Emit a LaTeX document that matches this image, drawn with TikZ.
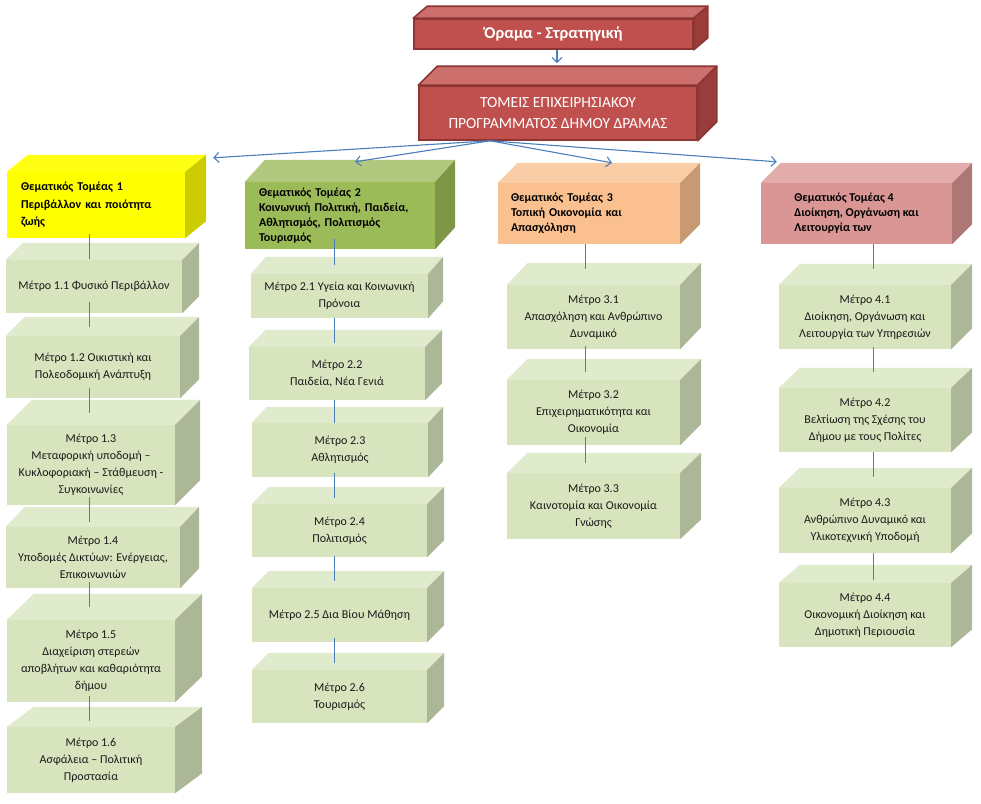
\documentclass[tikz,border=0pt]{standalone}
\usepackage{fontspec}
\setmainfont{Carlito}
\usetikzlibrary{calc,arrows.meta}
\definecolor{redF}{HTML}{C0504D}
\definecolor{redT}{HTML}{CD6F6C}
\definecolor{redS}{HTML}{9A3D3A}
\definecolor{redD}{HTML}{8C3533}
\definecolor{yelF}{HTML}{FFFF00}
\definecolor{yelT}{HTML}{FFFF14}
\definecolor{yelS}{HTML}{CCCC00}
\definecolor{grnF}{HTML}{9BBB59}
\definecolor{grnT}{HTML}{B0C97E}
\definecolor{grnS}{HTML}{7D9747}
\definecolor{orgF}{HTML}{FAC090}
\definecolor{orgT}{HTML}{FBCDA7}
\definecolor{orgS}{HTML}{C89A73}
\definecolor{pnkF}{HTML}{D99694}
\definecolor{pnkT}{HTML}{E2ACAA}
\definecolor{pnkS}{HTML}{AE7877}
\definecolor{meaF}{HTML}{D7E4BD}
\definecolor{meaT}{HTML}{E0EACC}
\definecolor{meaS}{HTML}{ACB797}
\definecolor{lineC}{HTML}{4A7EBB}
\definecolor{txt}{HTML}{1A1A1A}
\tikzset{
  base/.style={rectangle, inner sep=0pt, text=txt, font=\fontsize{12}{17}\selectfont},
  mea/.style={base, fill=meaF, align=center},
  mea top/.style={fill=meaT},
  mea side/.style={fill=meaS},
  red/.style={base, fill=redF, draw=redD, line width=1.6pt, text=white, align=center},
  red top/.style={fill=redT, draw=redD, line width=1.6pt, line join=round},
  red side/.style={fill=redS, draw=redD, line width=1.6pt, line join=round},
  thm/.style={base, align=left, text=black, font=\fontsize{12}{17.5}\selectfont\bfseries},
  th1/.style={thm, fill=yelF},
  th1 top/.style={fill=yelT},
  th1 side/.style={fill=yelS},
  th2/.style={thm, fill=grnF, font=\fontsize{12}{15}\selectfont\bfseries},
  th2 top/.style={fill=grnT},
  th2 side/.style={fill=grnS},
  th3/.style={thm, fill=orgF, font=\fontsize{12}{15}\selectfont\bfseries},
  th3 top/.style={fill=orgT},
  th3 side/.style={fill=orgS},
  th4/.style={thm, fill=pnkF, font=\fontsize{12}{15}\selectfont\bfseries},
  th4 top/.style={fill=pnkT},
  th4 side/.style={fill=pnkS},
  conn/.style={draw=lineC, line width=1pt},
  arr/.style={draw=lineC, line width=1.1pt, -{Straight Barb[length=5pt,width=10pt]}},
}
% #1 name, #2 kind, #3 x1, #4 y1, #5 x2, #6 y2, #7 depth shift, #8 options, #9 text
\newcommand\cubox[9]{%
  \node[#2, minimum width={#5-#3}, minimum height={#6-#4}, #8] (#1) at ({(#3+#5)/2},{(#4+#6)/2}) {#9};
  \path[#2 top] (#1.north west) -- ++#7 -- ([shift={#7}]#1.north east) -- (#1.north east) -- cycle;
  \path[#2 side] (#1.north east) -- ++#7 -- ([shift={#7}]#1.south east) -- (#1.south east) -- cycle;
}
% #1 parent, #2 child, #3 column coordinate, #4 start above parent bottom, #5 end above child top
\newcommand\conn[5]{%
  \draw[conn] ($(#1.south -| #3)+(0,-#4)$) -- ($(#2.north -| #3)+(0,-#5)$);
}
\begin{document}
\begin{tikzpicture}[x=1pt,y=-1pt]
\useasboundingbox (0,0) rectangle (981,803);
\coordinate (c1) at (89,0);
\coordinate (c2) at (334,0);
\coordinate (c3) at (585,0);
\coordinate (c4) at (873,0);

% top boxes
\cubox{r1}{red}{414}{19}{693}{49}{(14,-12)}{font=\fontsize{16.5}{18}\selectfont\bfseries}{Όραμα - Στρατηγική}
\cubox{r2}{red}{419}{86}{697}{140}{(19,-19)}{font=\fontsize{15.5}{21}\selectfont}{ΤΟΜΕΙΣ ΕΠΙΧΕΙΡΗΣΙΑΚΟΥ\\ΠΡΟΓΡΑΜΜΑΤΟΣ ΔΗΜΟΥ ΔΡΑΜΑΣ}

% themes
\cubox{t1}{th1}{7}{172}{185}{238}{(21,-17)}{text width=150pt}{Θεματικός Τομέας 1\\Περιβάλλον και ποιότητα\\ζωής}
\cubox{t2}{th2}{245}{182}{435}{249}{(20,-22)}{text width=162pt}{Θεματικός Τομέας  2\\Κοινωνική Πολιτική, Παιδεία,\\Αθλητισμός, Πολιτισμός\\Τουρισμός}
\cubox{t3}{th3}{498}{183}{680}{244}{(20,-20)}{text width=156pt}{Θεματικός Τομέας 3\\Τοπική Οικονομία και\\Απασχόληση}
\cubox{t4}{th4}{761}{183}{952}{244}{(20,-20)}{}{Θεματικός Τομέας 4\\Διοίκηση, Οργάνωση και\\Λειτουργία των}

% column 1
\cubox{m11}{mea}{6}{260}{182}{313}{(17,-17)}{}{Μέτρο 1.1 Φυσικό Περιβάλλον}
\cubox{m12}{mea}{6}{336}{180}{398}{(19,-19)}{}{Μέτρο 1.2 Οικιστική  και\\Πολεοδομική Ανάπτυξη}
\cubox{m13}{mea}{7}{425}{175}{505}{(25,-25)}{}{Μέτρο 1.3\\Μεταφορική υποδομή –\\Κυκλοφοριακή  – Στάθμευση -\\Συγκοινωνίες}
\cubox{m14}{mea}{6}{527}{180}{588}{(19,-20)}{}{Μέτρο 1.4\\Υποδομές Δικτύων: Ενέργειας,\\Επικοινωνιών}
\cubox{m15}{mea}{7}{620}{175}{702}{(27,-26)}{}{Μέτρο 1.5\\Διαχείριση στερεών\\αποβλήτων και  καθαριότητα\\δήμου}
\cubox{m16}{mea}{7}{727}{175}{793}{(27,-20)}{}{Μέτρο 1.6\\Ασφάλεια – Πολιτική\\Προστασία}

% column 2
\cubox{m21}{mea}{251}{274}{428}{318}{(15,-17)}{}{Μέτρο 2.1  Υγεία και Κοινωνική\\Πρόνοια}
\cubox{m22}{mea}{249}{347}{425}{400}{(17,-17)}{}{Μέτρο 2.2\\Παιδεία, Νέα Γενιά}
\cubox{m23}{mea}{252}{423}{428}{477}{(15,-16)}{}{Μέτρο 2.3\\Αθλητισμός}
\cubox{m24}{mea}{252}{504}{427}{557}{(17,-17)}{}{Μέτρο 2.4\\Πολιτισμός}
\cubox{m25}{mea}{252}{588}{427}{642}{(17,-17)}{}{Μέτρο 2.5  Δια Βίου Μάθηση}
\cubox{m26}{mea}{252}{670}{427}{723}{(17,-17)}{}{Μέτρο 2.6\\Τουρισμός}

% column 3
\cubox{m31}{mea}{507}{285}{680}{349}{(21,-22)}{}{Μέτρο 3.1\\Απασχόληση και Ανθρώπινο\\Δυναμικό}
\cubox{m32}{mea}{507}{380}{680}{445}{(21,-21)}{}{Μέτρο 3.2\\Επιχειρηματικότητα και\\Οικονομία}
\cubox{m33}{mea}{507}{473}{680}{539}{(21,-20)}{}{Μέτρο 3.3\\Καινοτομία και Οικονομία\\Γνώσης}

% column 4
\cubox{m41}{mea}{779}{285}{951}{349}{(21,-21)}{}{Μέτρο 4.1\\Διοίκηση,  Οργάνωση  και\\Λειτουργία των Υπηρεσιών}
\cubox{m42}{mea}{779}{388}{951}{452}{(21,-20)}{}{Μέτρο 4.2\\Βελτίωση της Σχέσης του\\Δήμου με τους Πολίτες}
\cubox{m43}{mea}{779}{488}{951}{553}{(21,-20)}{}{Μέτρο 4.3\\Ανθρώπινο Δυναμικό και\\Υλικοτεχνική Υποδομή}
\cubox{m44}{mea}{779}{583}{951}{647}{(21,-18)}{}{Μέτρο 4.4\\Οικονομική Διοίκηση  και\\Δημοτική Περιουσία}

% connectors
\conn{t1}{m11}{c1}{4}{1}
\conn{m11}{m12}{c1}{11}{9}
\conn{m12}{m13}{c1}{10}{12}
\conn{m13}{m14}{c1}{8}{5}
\conn{m14}{m15}{c1}{6}{13}
\conn{m15}{m16}{c1}{6}{6}

\conn{t2}{m21}{c2}{10}{9}
\conn{m21}{m22}{c2}{0}{4}
\conn{m22}{m23}{c2}{0}{0}
\conn{m23}{m24}{c2}{4}{6}
\conn{m24}{m25}{c2}{1}{7}
\conn{m25}{m26}{c2}{4}{7}

\conn{t3}{m31}{c3}{0}{16}
\conn{m31}{m32}{c3}{3}{8}
\conn{m32}{m33}{c3}{8}{10}

\conn{t4}{m41}{c4}{0}{16}
\conn{m41}{m42}{c4}{2}{16}
\conn{m42}{m43}{c4}{0}{11}
\conn{m43}{m44}{c4}{0}{3}

% arrows
\draw[arr] ($(r1.south -| r2.north)+(-1,0)$) -- ($(r2.north)+(-1,-22)$);
\coordinate (hub) at ($(r2.south)+(-68,0)$);
\draw[arr] (hub) -- ($(t1.north east)+(28,-14)$);
\draw[arr] (hub) -- ($(t2.north)+(15,-20)$);
\draw[arr] (hub) -- ($(t3.north)+(23,-20)$);
\draw[arr] (hub) -- ($(t4.north west)+(16,-21)$);
\end{tikzpicture}
\end{document}
